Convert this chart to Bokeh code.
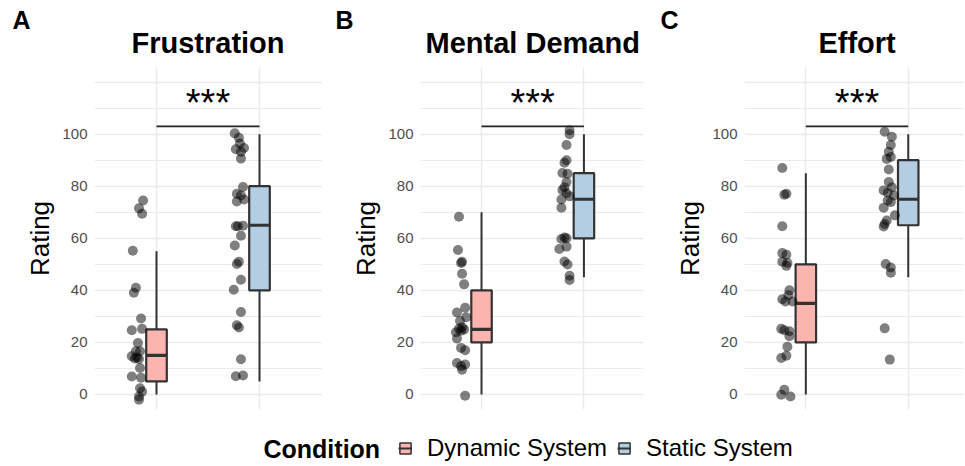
from bokeh.plotting import figure
from bokeh.models import Range1d, FixedTicker, Grid, Legend, LegendItem, Label
from bokeh.layouts import row, column
from bokeh.embed import file_html
from bokeh.resources import INLINE
from bokeh.core.properties import value

FONT = "Liberation Sans"

# ---------------- data ----------------
metrics = ["Frustration", "Mental Demand", "Effort"]
panel_tags = ["A", "B", "C"]
conditions = ["Dynamic System", "Static System"]
cond_pos = [1, 2]
fill_colors = ["#FBB4AE", "#B3CDE3"]

# boxplot statistics [dynamic, static]
whisker_low = [[0, 5], [0, 45], [0, 45]]
box_q1 = [[5, 40], [20, 60], [20, 65]]
box_median = [[15, 65], [25, 75], [35, 75]]
box_q3 = [[25, 80], [40, 85], [50, 90]]
whisker_high = [[55, 100], [70, 100], [85, 100]]

sig_label = "***"
sig_bar_y = 103
sig_text_y = 112.1

# jittered ratings (value, horizontal jitter offset)
frus_dyn_y = [74.5, 71.5, 69.4, 55.2, 41.0, 39.1, 29.2, 24.7, 25.2, 19.8, 16.6, 16.6,
              14.7, 14.2, 13.8, 13.6, 10.2, 6.9, 6.4, 2.4, 1.1, -0.8, -2.0]
frus_dyn_dx = [-0.13, -0.17, -0.14, -0.23, -0.20, -0.22, -0.15, -0.24, -0.14, -0.18, -0.20, -0.16,
               -0.24, -0.19, -0.21, -0.17, -0.16, -0.24, -0.15, -0.16, -0.14, -0.17, -0.17]
frus_sta_y = [100.3, 98.6, 96.4, 94.2, 94.7, 93.2, 90.6, 79.7, 77.1, 76.4, 74.9, 74.1, 64.8, 64.6,
              64.6, 61.0, 57.2, 51.0, 50.1, 44.1, 40.2, 31.7, 26.6, 25.7, 13.5, 7.0, 7.3]
frus_sta_dx = [-0.24, -0.20, -0.19, -0.23, -0.15, -0.18, -0.18, -0.16, -0.22, -0.18, -0.15, -0.22, -0.16, -0.23,
               -0.21, -0.18, -0.24, -0.20, -0.22, -0.18, -0.25, -0.18, -0.22, -0.20, -0.18, -0.23, -0.16]

ment_dyn_y = [68.3, 55.5, 51.0, 50.5, 46.4, 42.3, 33.3, 31.5, 29.7, 28.2, 25.2, 25.0, 25.8, 24.5,
              23.9, 21.5, 17.9, 17.0, 12.1, 10.9, 11.5, 9.5, -0.5]
ment_dyn_dx = [-0.22, -0.23, -0.19, -0.20, -0.19, -0.17, -0.16, -0.24, -0.15, -0.21, -0.22, -0.17, -0.19, -0.20,
               -0.25, -0.24, -0.20, -0.16, -0.24, -0.20, -0.16, -0.19, -0.16]
ment_sta_y = [101.5, 100.0, 95.8, 90.0, 89.0, 85.1, 84.8, 81.6, 79.6, 78.5, 77.3, 76.1, 74.9, 71.7,
              60.3, 59.7, 60.0, 55.9, 56.8, 51.1, 49.9, 45.6, 44.0]
ment_sta_dx = [-0.14, -0.14, -0.17, -0.17, -0.19, -0.21, -0.16, -0.17, -0.19, -0.21, -0.17, -0.14, -0.22, -0.22,
               -0.19, -0.22, -0.17, -0.24, -0.17, -0.19, -0.16, -0.14, -0.14]

eff_dyn_y = [87.0, 77.1, 76.7, 64.6, 54.3, 53.7, 51.0, 50.5, 49.4, 40.0, 38.1, 36.6, 35.7, 35.7,
             25.2, 24.7, 24.3, 22.4, 18.3, 14.9, 14.0, 1.8, -0.1, -0.8]
eff_dyn_dx = [-0.23, -0.19, -0.21, -0.23, -0.23, -0.19, -0.23, -0.18, -0.19, -0.16, -0.17, -0.23, -0.20, -0.13,
              -0.24, -0.21, -0.16, -0.16, -0.18, -0.19, -0.24, -0.21, -0.24, -0.15]
eff_sta_y = [100.9, 99.0, 95.8, 93.2, 91.2, 90.5, 86.4, 81.6, 78.4, 79.6, 77.5, 76.4, 74.5, 73.9,
             71.7, 68.8, 66.8, 64.5, 65.5, 50.1, 48.8, 46.8, 25.4, 13.4]
eff_sta_dx = [-0.23, -0.16, -0.17, -0.19, -0.17, -0.21, -0.19, -0.19, -0.24, -0.16, -0.20, -0.14, -0.20, -0.17,
              -0.24, -0.13, -0.21, -0.24, -0.23, -0.22, -0.17, -0.17, -0.23, -0.18]

points_y = [[frus_dyn_y, frus_sta_y], [ment_dyn_y, ment_sta_y], [eff_dyn_y, eff_sta_y]]
points_dx = [[frus_dyn_dx, frus_sta_dx], [ment_dyn_dx, ment_sta_dx], [eff_dyn_dx, eff_sta_dx]]

y_ticks = [0, 20, 40, 60, 80, 100, 120]
y_minor = [10, 30, 50, 70, 90, 110]

# ---------------- layout constants ----------------
BOX_W = 0.2
DARK = "#333333"
Y0, Y1 = -5.77, 125.6
STRIP_H = 62
PANEL_H = 359
BORDER_TOP, BORDER_BOTTOM = 5, 12
LEG_H = 44
# per panel: figure width, left border, x range start, px per x unit, tag x (px in panel)
geom = [(322, 94, 0.398, 103.0, 12), (321, 98, 0.404, 102.4, 13), (320, 101, 0.401, 102.4, 17)]
TOTAL_W = sum(g[0] for g in geom)


def make_panel(k):
    width, bl, x0, scale, _ = geom[k]
    x_end = x0 + (width - bl) / scale
    p = figure(width=width, height=PANEL_H, x_range=Range1d(x0, x_end), y_range=Range1d(Y0, Y1),
               output_backend="svg", toolbar_location=None, x_axis_location=None,
               y_axis_label="Rating", title=None,
               min_border_left=bl, min_border_right=0, min_border_top=BORDER_TOP,
               min_border_bottom=BORDER_BOTTOM)
    p.outline_line_color = None

    ax = p.yaxis[0]
    ax.ticker = FixedTicker(ticks=y_ticks, minor_ticks=y_minor)
    ax.major_label_overrides = {120: ""}
    ax.axis_line_color = None
    ax.major_tick_line_color = None
    ax.minor_tick_line_color = None
    ax.major_tick_out = 0
    ax.major_tick_in = 0
    ax.minor_tick_out = 0
    ax.major_label_standoff = 7
    ax.major_label_text_font = FONT
    ax.major_label_text_font_size = "15px"
    ax.major_label_text_color = "#4D4D4D"
    ax.axis_label_text_font = FONT
    ax.axis_label_text_font_size = "26px"
    ax.axis_label_text_font_style = "normal"
    ax.axis_label_text_color = "black"
    ax.axis_label_standoff = 4

    p.ygrid.grid_line_color = "#EBEBEB"
    p.ygrid.grid_line_width = 1.4
    p.ygrid.minor_grid_line_color = "#EBEBEB"
    p.ygrid.minor_grid_line_width = 1.0
    p.xgrid.visible = False
    p.add_layout(Grid(dimension=0, ticker=FixedTicker(ticks=cond_pos),
                      grid_line_color="#EBEBEB", grid_line_width=1.4))

    lo, q1, md, q3, hi = whisker_low[k], box_q1[k], box_median[k], box_q3[k], whisker_high[k]
    p.segment(x0=cond_pos, y0=lo, x1=cond_pos, y1=q1, line_color=DARK, line_width=2)
    p.segment(x0=cond_pos, y0=q3, x1=cond_pos, y1=hi, line_color=DARK, line_width=2)
    p.vbar(x=cond_pos, width=BOX_W, bottom=q1, top=q3, fill_color=fill_colors,
           line_color=DARK, line_width=2.2)
    p.segment(x0=[c - BOX_W / 2 for c in cond_pos], y0=md, x1=[c + BOX_W / 2 for c in cond_pos], y1=md,
              line_color=DARK, line_width=3.2)

    for j, c in enumerate(cond_pos):
        xs = [c + d for d in points_dx[k][j]]
        p.scatter(x=xs, y=points_y[k][j], size=10, fill_color="black", fill_alpha=0.5, line_color=None)

    p.segment(x0=[cond_pos[0]], y0=[sig_bar_y], x1=[cond_pos[1]], y1=[sig_bar_y],
              line_color="#222222", line_width=1.6)
    p.text(x=[sum(cond_pos) / 2], y=[sig_text_y], text=[sig_label], text_align="center",
           text_baseline="middle", text_font=value(FONT), text_font_size="38px", text_color="black")
    return p


panels = [make_panel(k) for k in range(3)]

# top strip with panel tags and panel titles (pixel coordinates)
top = figure(width=TOTAL_W, height=STRIP_H, x_range=Range1d(0, TOTAL_W), y_range=Range1d(0, STRIP_H),
             output_backend="svg", toolbar_location=None, x_axis_location=None, y_axis_location=None,
             min_border=0, title=None)
top.outline_line_color = None
top.grid.visible = False
panel_left = [sum(g[0] for g in geom[:k]) for k in range(3)]
tag_x = [panel_left[k] + geom[k][4] for k in range(3)]
title_x = [panel_left[k] + geom[k][1] + (sum(cond_pos) / 2 - geom[k][2]) * geom[k][3] for k in range(3)]
top.text(x=tag_x, y=[STRIP_H - 19] * 3, text=panel_tags, text_align="left", text_baseline="middle",
         text_font=value(FONT), text_font_size="25px", text_font_style="bold", text_color="black")
top.text(x=title_x, y=[STRIP_H - 42.5] * 3, text=metrics, text_align="center", text_baseline="middle",
         text_font=value(FONT), text_font_size="29px", text_font_style="bold", text_color="black")

# legend strip
pL = figure(width=TOTAL_W, height=LEG_H, x_range=Range1d(0, TOTAL_W), y_range=Range1d(0, LEG_H),
            output_backend="svg", toolbar_location=None, x_axis_location=None, y_axis_location=None,
            min_border=0, title=None)
pL.outline_line_color = None
pL.grid.visible = False
pL.add_layout(Label(x=263, y=17, text="Condition", text_align="left", text_baseline="middle",
                    text_font=FONT, text_font_size="25px", text_font_style="bold", text_color="black"))
items = []
for c, col in zip(conditions, fill_colors):
    # off-screen proxy glyphs that only serve as legend keys
    rq = pL.quad(left=[-30], right=[-20], top=[-20], bottom=[-30], fill_color=col, line_color=DARK,
                 line_width=1.5)
    rs = pL.segment(x0=[-30], y0=[-25], x1=[-20], y1=[-25], line_color=DARK, line_width=2)
    items.append(LegendItem(label=c, renderers=[rq, rs]))
leg = Legend(items=items, orientation="horizontal", location=(398, 3), padding=0, margin=0,
             spacing=10, label_standoff=15, glyph_width=14, glyph_height=14,
             label_text_font=FONT, label_text_font_size="24px", label_text_color="black",
             border_line_color=None, background_fill_alpha=0)
pL.add_layout(leg)

layout = column(top, row(*panels), pL)
open("out.html", "w").write(file_html(layout, INLINE))
